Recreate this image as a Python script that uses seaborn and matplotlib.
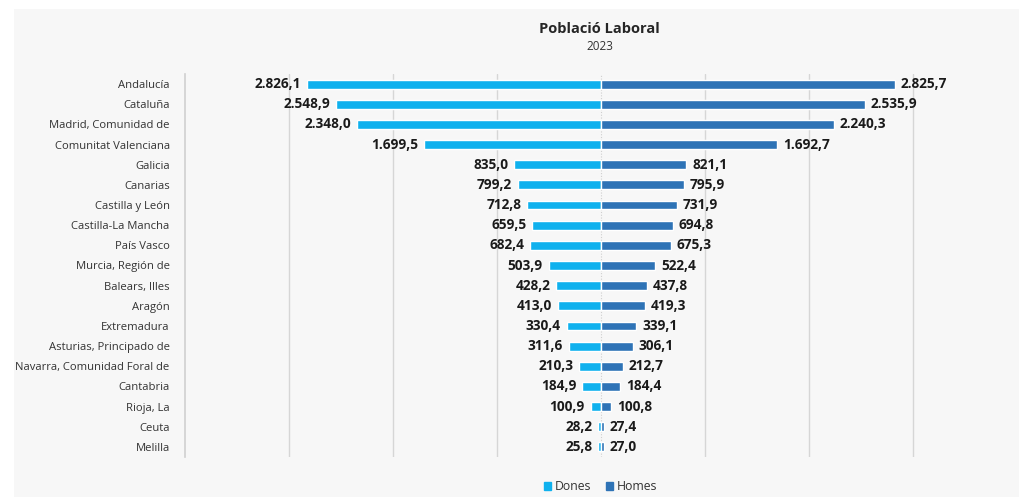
import matplotlib
matplotlib.use("Agg")
import matplotlib.pyplot as plt
import matplotlib.patches as mpatches
import seaborn as sns
import pandas as pd

regions = ["Andalucía", "Cataluña", "Madrid, Comunidad de", "Comunitat Valenciana",
           "Galicia", "Canarias", "Castilla y León", "Castilla-La Mancha", "País Vasco",
           "Murcia, Región de", "Balears, Illes", "Aragón", "Extremadura",
           "Asturias, Principado de", "Navarra, Comunidad Foral de", "Cantabria",
           "Rioja, La", "Ceuta", "Melilla"]
dones = [2826.1, 2548.9, 2348.0, 1699.5, 835.0, 799.2, 712.8, 659.5, 682.4, 503.9,
         428.2, 413.0, 330.4, 311.6, 210.3, 184.9, 100.9, 28.2, 25.8]
homes = [2825.7, 2535.9, 2240.3, 1692.7, 821.1, 795.9, 731.9, 694.8, 675.3, 522.4,
         437.8, 419.3, 339.1, 306.1, 212.7, 184.4, 100.8, 27.4, 27.0]

c_dones = "#0fb1ee"
c_homes = "#2e73b6"
bg = "#f7f7f7"


def fmt(v):
    s = f"{v:,.1f}"
    return s.replace(",", "X").replace(".", ",").replace("X", ".")


sns.set_style("white")
plt.rcParams['font.family'] = ['Open Sans', 'DejaVu Sans']

df = pd.DataFrame({"region": regions, "Dones": [-d for d in dones], "Homes": homes})

fig = plt.figure(figsize=(10.2, 4.97), dpi=100, facecolor="white")
# grey panel behind the chart
fig.patches.append(mpatches.Rectangle((14 / 1020, 0), 1.1, 1 - 9 / 497, transform=fig.transFigure,
                                      facecolor=bg, edgecolor="none", zorder=-5))
ax = fig.add_axes([185 / 1020, 1 - 457 / 497, 832 / 1020, 383 / 497])
ax.set_facecolor(bg)

for x in [-3000, -2000, -1000, 1000, 2000, 3000]:
    ax.axvline(x, color="#d6d6d6", lw=1, zorder=0)
ax.axvline(0, color="#cfcfcf", lw=0.8, ls=(0, (1, 1.5)), zorder=0)

sns.barplot(data=df, y="region", x="Dones", color=c_dones, saturation=1, width=0.44,
            ax=ax, orient="h", zorder=2)
sns.barplot(data=df, y="region", x="Homes", color=c_homes, saturation=1, width=0.44,
            ax=ax, orient="h", zorder=2)

for i, (d, h) in enumerate(zip(dones, homes)):
    ax.text(-d - 55, i, fmt(d), ha="right", va="center", fontsize=9.8, fontweight="bold", color="#1a1a1a")
    ax.text(h + 55, i, fmt(h), ha="left", va="center", fontsize=9.8, fontweight="bold", color="#1a1a1a")

ax.set_xlim(-4000, 4000)
ax.set_ylim(18.5, -0.5)
ax.set_xticks([])
ax.set_xlabel("")
ax.set_ylabel("")
ax.tick_params(axis="y", length=0, pad=11, labelsize=8.1, labelcolor="#333333")
for s in ["top", "right", "bottom"]:
    ax.spines[s].set_visible(False)
ax.spines["left"].set_color("#d0d0d0")
ax.spines["left"].set_linewidth(1.2)

fig.text(0.588, 1 - 29 / 497, "Població Laboral", ha="center", va="center", fontsize=10.5, fontweight="bold")
fig.text(0.588, 1 - 47 / 497, "2023", ha="center", va="center", fontsize=8.5, color="#333333")

handles = [mpatches.Patch(color=c_dones, label="Dones"), mpatches.Patch(color=c_homes, label="Homes")]
fig.legend(handles=handles, loc="center", bbox_to_anchor=(0.589, 1 - 487 / 497), ncol=2,
           frameon=False, fontsize=8.8, handlelength=0.6, handleheight=0.6, handletextpad=0.3,
           columnspacing=1.2, labelcolor="#333333")

fig.savefig("out.png", dpi=100, facecolor="white")
